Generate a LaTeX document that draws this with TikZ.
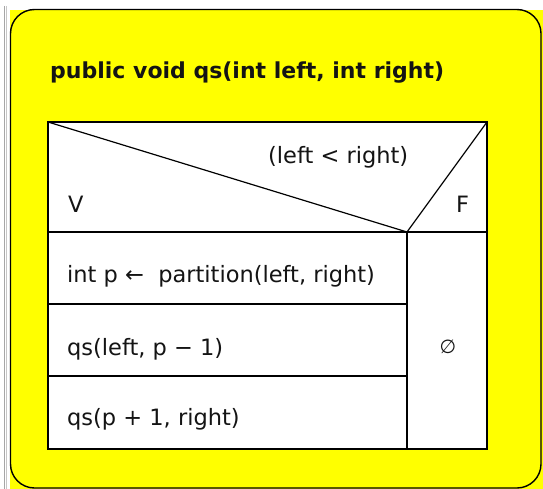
\documentclass[tikz,border=0pt]{standalone}
\usepackage{fontspec}
\setmainfont{DejaVu Sans}
\definecolor{bgyellow}{RGB}{255,255,0}
\definecolor{ink}{RGB}{20,20,20}
\begin{document}
\begin{tikzpicture}[x=1pt,y=-1pt,
  cell/.style={draw=black,line width=1.3pt,fill=white},
  txt/.style={inner sep=0pt,anchor=base west,text=ink,font=\fontsize{22.5}{26}\selectfont},
  sep/.style={draw=black,line width=1.2pt}]
\useasboundingbox (0,0) rectangle (543,489);
\fill[white] (0,0) rectangle (543,489);
\draw[gray!70,line width=0.9pt] (4.5,6) -- (4.5,489);
\draw[gray!45,line width=0.9pt] (6.5,6) -- (6.5,489);
\fill[bgyellow] (10,10) rectangle (543,489);
\draw[black,line width=1.4pt,rounded corners=24pt] (10.5,9.5) rectangle (541,488);
\node[inner sep=0pt,anchor=base west,text=ink,font=\bfseries\fontsize{22}{25}\selectfont] (title) at (50,79) {public void qs(int left, int right)};
% table
\path[cell] (48,122) rectangle (487,449);
\coordinate (tl) at (48,122);
\coordinate (tr) at (487,122);
\coordinate (apex) at (407,232);
\coordinate (bl) at (48,232);
\coordinate (br) at (487,232);
\draw[sep] (bl) -- (br);
\draw[sep] (tl) -- (apex) -- (tr);
\draw[sep] (apex) -- (407,449);
\draw[sep] (48,304) -- (407,304);
\draw[sep] (48,376) -- (407,376);
\node[txt] (cond) at (268,164) {(left < right)};
\node[txt] (v) at (68,212) {V};
\node[txt] (f) at (456,212) {F};
\node[txt] (s1) at (67,282) {int p ←\ \ partition(left, right)};
\node[txt] (s2) at (67,355) {qs(left, p − 1)};
\node[txt] (s3) at (67,425) {qs(p + 1, right)};
\node[inner sep=0pt,text=ink,font=\fontsize{19}{21}\selectfont] (empty) at (448,347) {∅};
\end{tikzpicture}
\end{document}
